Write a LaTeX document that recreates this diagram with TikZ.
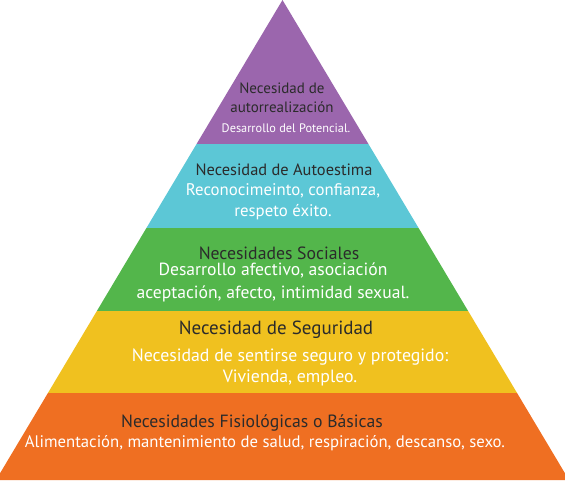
\documentclass[tikz,border=0pt]{standalone}
\usepackage{fontspec}
\setmainfont{PT Sans}
\usetikzlibrary{calc}
\definecolor{purp}{HTML}{9B66AD}
\definecolor{sky}{HTML}{5CC7D6}
\definecolor{grass}{HTML}{53B64B}
\definecolor{sun}{HTML}{F0C11F}
\definecolor{tang}{HTML}{EF6F22}
\definecolor{ink}{HTML}{2B2B2B}

\begin{document}
\begin{tikzpicture}[
  x=1pt, y=-1pt,
  title/.style={text=ink, align=center, inner sep=0pt, font=\fontsize{#1}{19}\selectfont},
  desc/.style args={#1/#2}{text=white, align=center, inner sep=0pt, font=\fontsize{#1}{#2}\selectfont}
]
  \useasboundingbox (0,0) rectangle (565,480);
  \coordinate (apex) at (282.5,0);
  \coordinate (bl) at (-4,480);
  \coordinate (br) at (569,480);

  % layers, top to bottom
  \foreach \a/\b/\c in {0/0.3/purp, 0.3/0.475/sky, 0.475/0.648/grass,
                        0.648/0.819/sun, 0.819/1/tang}
    \fill[\c] ($(apex)!\a!(bl)$) -- ($(apex)!\b!(bl)$)
              -- ($(apex)!\b!(br)$) -- ($(apex)!\a!(br)$) -- cycle;

  \node[title=15] (t1) at (282,97.5) {Necesidad de\\autorrealización};
  \node[desc=12.3/14] (d1) at (286,128) {Desarrollo del Potencial.};

  \node[title=16.4] (t2) at (284,170) {Necesidad de Autoestima};
  \node[desc=16.8/21] (d2) at (283,201.5) {Reconocimeinto, confianza,\\respeto éxito.};

  \node[title=17.7] (t3) at (279,253) {Necesidades Sociales};
  \node[desc=17.6/23] (d3) at (273,282.5) {Desarrollo afectivo, asociación\\aceptación, afecto, intimidad sexual.};

  \node[title=19] (t4) at (276,330) {Necesidad de Seguridad};
  \node[desc=17.8/21] (d4) at (290,367.5) {Necesidad de sentirse seguro y protegido:\\Vivienda, empleo.};

  \node[title=17.7] (t5) at (252,423) {Necesidades Fisiológicas o Básicas};
  \node[desc=16.7/20] (d5) at (265,443) {Alimentación, mantenimiento de salud, respiración, descanso, sexo.};
\end{tikzpicture}
\end{document}
